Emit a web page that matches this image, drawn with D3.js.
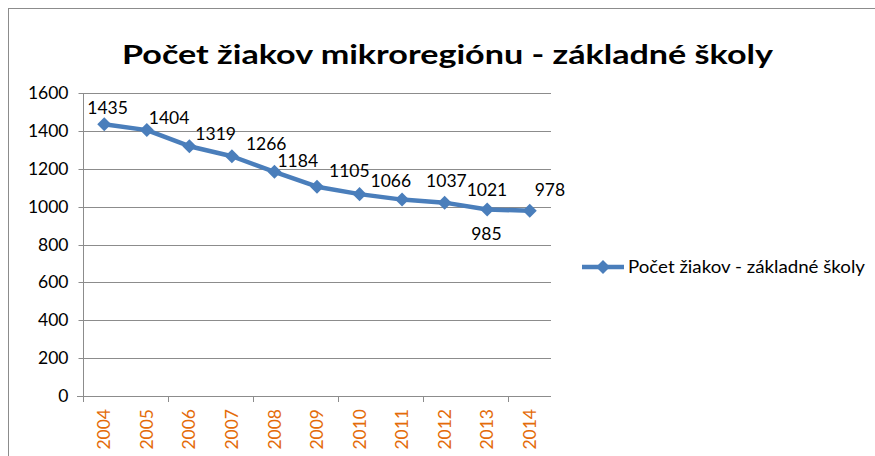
<!DOCTYPE html>
<html>
<head>
<meta charset="utf-8">
<script src="https://cdn.jsdelivr.net/npm/d3@7"></script>
<style>
  html, body { margin: 0; padding: 0; background: #fff; }
  svg { display: block; }
</style>
</head>
<body>
<svg id="chart" width="875" height="456"></svg>
<script>
const titleText = "Počet žiakov mikroregiónu - základné školy";
const seriesName = "Počet žiakov - základné školy";
const years = ["2004","2005","2006","2007","2008","2009","2010","2011","2012","2013","2014"];
const pupils = [1435, 1404, 1319, 1266, 1184, 1105, 1066, 1037, 1021, 985, 978];
const yTicks = [0, 200, 400, 600, 800, 1000, 1200, 1400, 1600];
// label placement relative to point: [left-edge dx, baseline dy]
const labelDx = [-17, 2, 6, 14, 3, 12, 11, 24, 22, -16, 5];
const labelDy = [-10, -6, -6, -6, -5, -10, -7, -13, -7, 31, -15];

const svg = d3.select("#chart");
const font = "Lato, 'Open Sans', sans-serif";
const plot = {left: 83, right: 551, top: 93, bottom: 396};
const gridColor = "#8c8c8c";
const lineColor = "#4A7EBB";

// outer frame (extends past the window)
svg.append("rect").attr("x", 8.5).attr("y", 8.5).attr("width", 900).attr("height", 500)
  .attr("fill", "none").attr("stroke", "#8c8c8c").attr("stroke-width", 1);

svg.append("text").attr("x", 122).attr("y", 64)
  .attr("font-family", font).attr("font-weight", "bold").attr("font-size", 27)
  .attr("textLength", 651).attr("lengthAdjust", "spacingAndGlyphs")
  .attr("fill", "#000").text(titleText);

const x = d3.scaleBand().domain(years).range([plot.left, plot.right]).padding(0);
const y = d3.scaleLinear().domain([0, 1600]).range([plot.bottom, plot.top]);
const cx = d => x(d) + x.bandwidth() / 2;

// gridlines
svg.append("g").selectAll("line").data(yTicks.filter(v => v > 0)).join("line")
  .attr("x1", plot.left).attr("x2", plot.right)
  .attr("y1", d => Math.round(y(d)) + 0.5).attr("y2", d => Math.round(y(d)) + 0.5)
  .attr("stroke", gridColor).attr("stroke-width", 1);

// y axis
const yAxis = svg.append("g").attr("transform", `translate(${plot.left + 0.5},0.5)`)
  .call(d3.axisLeft(y).tickValues(yTicks).tickSize(5).tickPadding(10).tickFormat(d3.format("d")));
yAxis.select(".domain").attr("stroke", gridColor).attr("d", `M0,${Math.round(y(1600))}V${Math.round(y(0))}`);
yAxis.selectAll(".tick line").attr("stroke", gridColor);
yAxis.selectAll(".tick text").attr("font-family", font).attr("font-size", 17.5).attr("fill", "#000");
yAxis.selectAll(".tick").attr("transform", d => `translate(0,${Math.round(y(d))})`);

// x axis
const xg = svg.append("g");
xg.append("line").attr("x1", plot.left - 6).attr("x2", plot.right)
  .attr("y1", Math.round(y(0)) + 0.5).attr("y2", Math.round(y(0)) + 0.5)
  .attr("stroke", gridColor).attr("stroke-width", 1);
xg.selectAll("line.tk").data(years.filter((d, i) => i % 2 === 0)).join("line").attr("class", "tk")
  .attr("x1", d => Math.round(x(d)) + 0.5).attr("x2", d => Math.round(x(d)) + 0.5)
  .attr("y1", Math.round(y(0))).attr("y2", Math.round(y(0)) + 6)
  .attr("stroke", gridColor);
xg.selectAll("text").data(years).join("text")
  .attr("transform", d => `translate(${cx(d)},${plot.bottom + 13}) rotate(-90)`)
  .attr("text-anchor", "end").attr("dy", "0.35em")
  .attr("font-family", font).attr("font-size", 17.5).attr("fill", "#E46C0A")
  .text(d => d);

// line
const pts = years.map((d, i) => [cx(d), y(pupils[i])]);
svg.append("path").datum(pts).attr("d", d3.line())
  .attr("fill", "none").attr("stroke", lineColor).attr("stroke-width", 4.5).attr("stroke-linejoin", "round");

const diamond = d3.symbol().type(d3.symbolDiamond2).size(125);
svg.append("g").selectAll("path").data(pts).join("path")
  .attr("d", diamond()).attr("transform", d => `translate(${d[0]},${d[1]})`)
  .attr("fill", lineColor);

// data labels
svg.append("g").selectAll("text").data(pupils).join("text")
  .attr("x", (d, i) => pts[i][0] + labelDx[i])
  .attr("y", (d, i) => pts[i][1] + labelDy[i])
  .attr("font-family", font).attr("font-size", 17.5).attr("fill", "#000")
  .text(d => d);

// legend
const lg = svg.append("g");
lg.append("line").attr("x1", 582).attr("x2", 624).attr("y1", 267).attr("y2", 267)
  .attr("stroke", lineColor).attr("stroke-width", 4.5);
lg.append("path").attr("d", diamond()).attr("transform", "translate(603,267)").attr("fill", lineColor);
lg.append("text").attr("x", 628).attr("y", 273)
  .attr("font-family", font).attr("font-size", 17.5).attr("fill", "#000")
  .attr("textLength", 237).attr("lengthAdjust", "spacingAndGlyphs")
  .text(seriesName);
</script>
</body>
</html>
